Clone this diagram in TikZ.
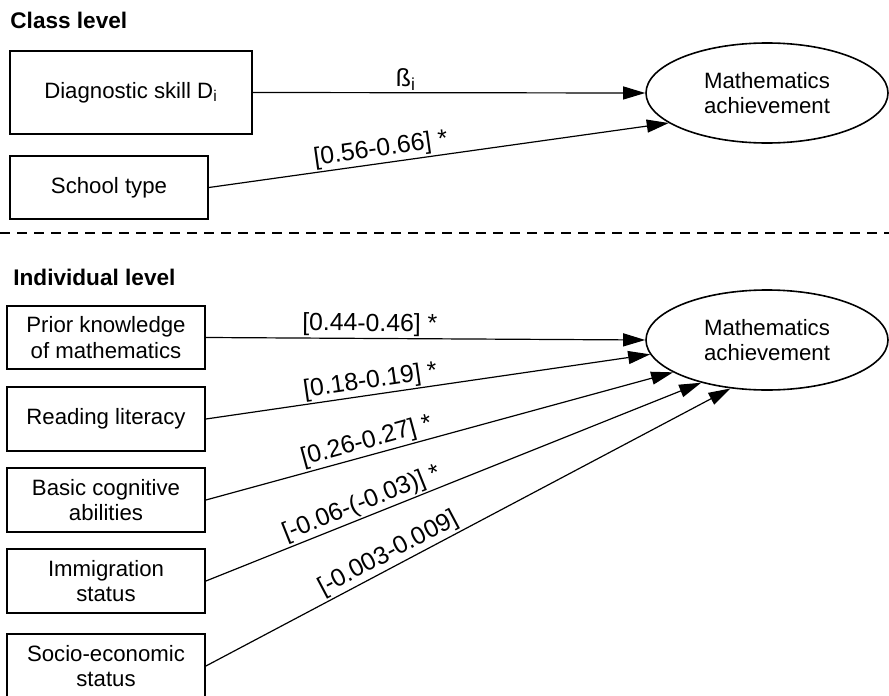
\documentclass[tikz,border=0pt]{standalone}
\usepackage{fontspec}
\setmainfont{Liberation Sans}
\usetikzlibrary{arrows.meta,shapes.geometric}
\begin{document}
\begin{tikzpicture}[x=0.5pt,y=-0.5pt,
  box/.style={draw, line width=0.9pt, minimum width=99pt, minimum height=32pt,
    inner sep=0pt, align=center, font=\fontsize{11.1}{12.8}\selectfont},
  outcome/.style={draw, ellipse, line width=0.8pt, minimum width=121pt,
    minimum height=50pt, inner sep=0pt, align=center,
    font=\fontsize{11.1}{12.4}\selectfont},
  effect/.style={line width=0.6pt, -{Triangle[length=11pt,width=6.5pt]}},
  coef/.style={font=\fontsize{12.4}{14}\selectfont, sloped, above, inner sep=0.8pt},
  heading/.style={font=\bfseries\fontsize{11.3}{13}\selectfont, anchor=base west,
    inner sep=0pt},
  separator/.style={line width=1pt, dash pattern=on 5pt off 3.5pt}
]
\useasboundingbox (0,0) rectangle (889,696);
\clip (0,0) rectangle (889,696);

% ---- class level ----
\node[heading] (cl) at (10,28) {Class level};
\node[box, minimum width=121pt, minimum height=41.5pt] (diag) at (131,92.5)
  {Diagnostic skill D\textsubscript{i}};
\node[box, minimum height=31.5pt] (school) at (109,187.5) {School type};
\node[outcome] (m1) at (767,93) {Mathematics\\achievement};

\draw[effect] (diag.east) -- node[coef, pos=0.39] {ß\textsubscript{i}} (m1.west);
\draw[effect] (school.east) -- node[coef, pos=0.378] {[0.56-0.66] *} (m1.197);

% ---- level separator ----
\coordinate (sepL) at (0,233);
\coordinate (sepR) at (889,233);
\draw[separator] (sepL) -- (sepR);

% ---- individual level ----
\node[heading] (il) at (13,285) {Individual level};
\node[box, minimum height=31.5pt] (pa) at (106,337.5) {Prior knowledge\\of mathematics};
\node[box] (pb) at (106,419) {Reading literacy};
\node[box] (pc) at (106,500) {Basic cognitive\\abilities};
\node[box] (pd) at (106,581) {Immigration\\status};
\node[box] (pe) at (106,666) {Socio-economic\\status};
\node[outcome] (m2) at (767,340) {Mathematics\\achievement};

\draw[effect] (pa.east) -- node[coef, pos=0.373] {[0.44-0.46] *} (m2.west);
\draw[effect] (pb.east) -- node[coef, pos=0.375] {[0.18-0.19] *} (m2.187);
\draw[effect] (pc.east) -- node[coef, pos=0.352] {[0.26-0.27] *} (m2.199);
\draw[effect] (pd.east) -- node[coef, pos=0.325] {[-0.06-(-0.03)] *} (m2.213);
\draw[effect] (pe.east) -- node[coef, pos=0.36] {[-0.003-0.009]} (m2.233);
\end{tikzpicture}
\end{document}
